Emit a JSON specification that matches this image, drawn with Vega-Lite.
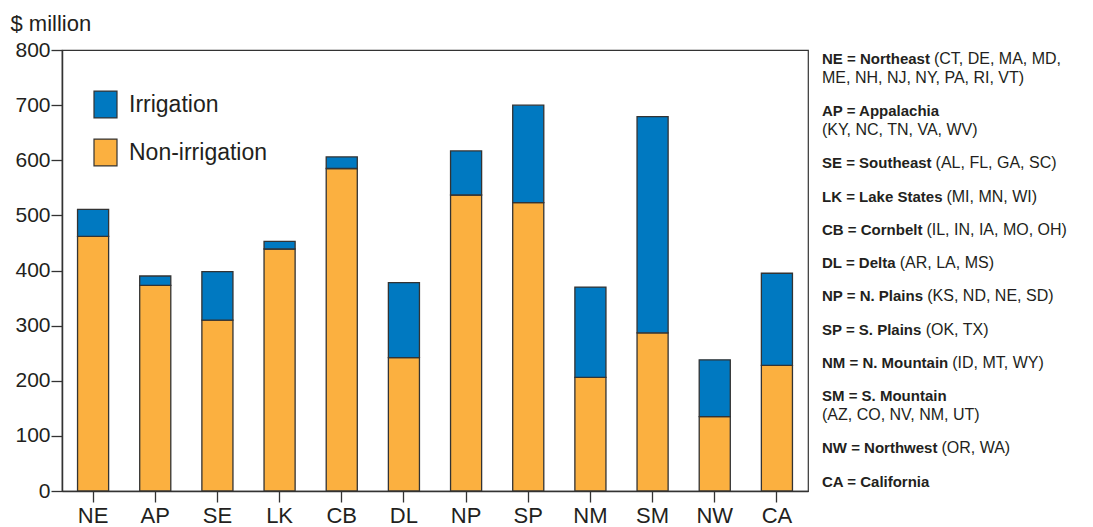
{
  "$schema": "https://vega.github.io/schema/vega-lite/v6.json",
  "background": "white",
  "padding": {"left": 9, "top": 11, "right": 0, "bottom": 0},
  "spacing": 13,
  "datasets": {
    "bars": [
      {"region": "NE", "type": "Non-irrigation", "value": 462},
      {"region": "NE", "type": "Irrigation", "value": 49},
      {"region": "AP", "type": "Non-irrigation", "value": 373},
      {"region": "AP", "type": "Irrigation", "value": 17},
      {"region": "SE", "type": "Non-irrigation", "value": 310},
      {"region": "SE", "type": "Irrigation", "value": 88},
      {"region": "LK", "type": "Non-irrigation", "value": 439},
      {"region": "LK", "type": "Irrigation", "value": 14},
      {"region": "CB", "type": "Non-irrigation", "value": 585},
      {"region": "CB", "type": "Irrigation", "value": 21},
      {"region": "DL", "type": "Non-irrigation", "value": 242},
      {"region": "DL", "type": "Irrigation", "value": 136},
      {"region": "NP", "type": "Non-irrigation", "value": 537},
      {"region": "NP", "type": "Irrigation", "value": 80},
      {"region": "SP", "type": "Non-irrigation", "value": 523},
      {"region": "SP", "type": "Irrigation", "value": 177},
      {"region": "NM", "type": "Non-irrigation", "value": 206},
      {"region": "NM", "type": "Irrigation", "value": 164},
      {"region": "SM", "type": "Non-irrigation", "value": 287},
      {"region": "SM", "type": "Irrigation", "value": 392},
      {"region": "NW", "type": "Non-irrigation", "value": 135},
      {"region": "NW", "type": "Irrigation", "value": 103},
      {"region": "CA", "type": "Non-irrigation", "value": 228},
      {"region": "CA", "type": "Irrigation", "value": 167}
    ],
    "key": [
      {"abbr": "NE", "name": "Northeast", "states": "(CT, DE, MA, MD,", "more": "ME, NH, NJ, NY, PA, RI, VT)"},
      {"abbr": "AP", "name": "Appalachia", "states": "", "more": "(KY, NC, TN, VA, WV)"},
      {"abbr": "SE", "name": "Southeast", "states": "(AL, FL, GA, SC)", "more": ""},
      {"abbr": "LK", "name": "Lake States", "states": "(MI, MN, WI)", "more": ""},
      {"abbr": "CB", "name": "Cornbelt", "states": "(IL, IN, IA, MO, OH)", "more": ""},
      {"abbr": "DL", "name": "Delta", "states": "(AR, LA, MS)", "more": ""},
      {"abbr": "NP", "name": "N. Plains", "states": "(KS, ND, NE, SD)", "more": ""},
      {"abbr": "SP", "name": "S. Plains", "states": "(OK, TX)", "more": ""},
      {"abbr": "NM", "name": "N. Mountain", "states": "(ID, MT, WY)", "more": ""},
      {"abbr": "SM", "name": "S. Mountain", "states": "", "more": "(AZ, CO, NV, NM, UT)"},
      {"abbr": "NW", "name": "Northwest", "states": "(OR, WA)", "more": ""},
      {"abbr": "CA", "name": "California", "states": "", "more": ""}
    ]
  },
  "hconcat": [
    {
      "width": 746,
      "height": 441,
      "data": {"name": "bars"},
      "mark": {"type": "bar", "stroke": "#333333", "strokeWidth": 1.3},
      "encoding": {
        "x": {
          "field": "region",
          "type": "nominal",
          "sort": null,
          "scale": {"paddingInner": 0.5, "paddingOuter": 0.25},
          "axis": {"title": null, "labelAngle": 0, "labelFontSize": 22, "labelPadding": 3, "tickSize": 11}
        },
        "y": {
          "field": "value",
          "type": "quantitative",
          "stack": "zero",
          "scale": {"domain": [0, 800], "nice": false},
          "axis": {
            "values": [0, 100, 200, 300, 400, 500, 600, 700, 800],
            "title": "$ million",
            "titleAngle": 0,
            "titleAlign": "left",
            "titleBaseline": "alphabetic",
            "titleX": -52,
            "titleY": -20,
            "titleFontSize": 22,
            "titleFontWeight": "normal",
            "labelPadding": 1,
            "tickSize": 11
          }
        },
        "color": {
          "field": "type",
          "type": "nominal",
          "scale": {"domain": ["Irrigation", "Non-irrigation"], "range": ["#0079C1", "#FBB040"]},
          "legend": {
            "title": null,
            "orient": "none",
            "legendX": 31,
            "legendY": 42,
            "padding": 0,
            "symbolType": "M-1,-1.17H1V1.17H-1Z",
            "symbolSize": 529,
            "symbolStrokeColor": "#333333",
            "symbolStrokeWidth": 1.2,
            "symbolOpacity": 1,
            "labelFont": "Liberation Sans",
            "labelFontSize": 23,
            "labelColor": "#231F20",
            "labelOffset": 11,
            "rowPadding": 15
          }
        },
        "order": {"field": "type", "sort": "descending"}
      }
    },
    {
      "width": 272,
      "height": 441,
      "view": {"stroke": null},
      "data": {"name": "key"},
      "transform": [
        {"window": [{"op": "row_number", "as": "idx"}]},
        {"calculate": "datum.more ? 2 : 1", "as": "nlines"},
        {"window": [{"op": "sum", "field": "nlines", "as": "cum"}], "frame": [null, 0]},
        {"calculate": "datum.cum - datum.nlines + (datum.idx - 1) * 0.75", "as": "pos"},
        {"calculate": "datum.pos + 1", "as": "pos2"},
        {"calculate": "datum.abbr + ' = ' + datum.name", "as": "head"},
        {"calculate": "15 * (0.722*length(replace(datum.head, regexp('[^ABCDHKNRU]','g'), '')) + 0.833*length(replace(datum.head, regexp('[^M]','g'), '')) + 0.944*length(replace(datum.head, regexp('[^W]','g'), '')) + 0.778*length(replace(datum.head, regexp('[^GOQ]','g'), '')) + 0.667*length(replace(datum.head, regexp('[^EPSVXY]','g'), '')) + 0.611*length(replace(datum.head, regexp('[^FLTZ]','g'), '')) + 0.278*length(replace(datum.head, regexp('[^ .ilIj]','g'), '')) + 0.556*length(replace(datum.head, regexp('[^J]','g'), '')) + 0.333*length(replace(datum.head, regexp('[^tf]','g'), '')) + 0.389*length(replace(datum.head, regexp('[^r]','g'), '')) + 0.556*length(replace(datum.head, regexp('[^acesvkxyz]','g'), '')) + 0.611*length(replace(datum.head, regexp('[^bdghnopqu]','g'), '')) + 0.889*length(replace(datum.head, regexp('[^m]','g'), '')) + 0.778*length(replace(datum.head, regexp('[^w]','g'), '')) + 0.584*length(replace(datum.head, regexp('[^=]','g'), ''))) + 4", "as": "tailX"}
      ],
      "encoding": {
        "y": {
          "field": "pos",
          "type": "quantitative",
          "scale": {"domain": [-0.4737, 22.737], "reverse": true, "nice": false, "zero": false},
          "axis": null
        }
      },
      "layer": [
        {
          "mark": {"type": "text", "align": "left", "baseline": "middle", "font": "Liberation Sans", "fontWeight": "bold", "fontSize": 15, "color": "#231F20"},
          "encoding": {
            "x": {"datum": 0, "type": "quantitative", "scale": {"domain": [0, 272], "nice": false, "zero": false}, "axis": null},
            "text": {"field": "head"}
          }
        },
        {
          "transform": [{"filter": "datum.states != ''"}],
          "mark": {"type": "text", "align": "left", "baseline": "middle", "font": "Liberation Sans", "fontSize": 16, "color": "#231F20"},
          "encoding": {
            "x": {"field": "tailX", "type": "quantitative"},
            "text": {"field": "states"}
          }
        },
        {
          "transform": [{"filter": "datum.more != ''"}],
          "mark": {"type": "text", "align": "left", "baseline": "middle", "font": "Liberation Sans", "fontSize": 16, "color": "#231F20"},
          "encoding": {
            "x": {"datum": 0, "type": "quantitative"},
            "y": {"field": "pos2", "type": "quantitative"},
            "text": {"field": "more"}
          }
        }
      ]
    }
  ],
  "config": {
    "font": "Liberation Sans",
    "view": {"stroke": "#333333", "strokeWidth": 1.2},
    "axis": {
      "grid": false,
      "labelFont": "Liberation Sans",
      "labelFontSize": 21,
      "labelColor": "#231F20",
      "titleFont": "Liberation Sans",
      "titleColor": "#231F20",
      "domainColor": "#333333",
      "domainWidth": 1.5,
      "tickColor": "#333333",
      "tickWidth": 1.3
    }
  }
}
